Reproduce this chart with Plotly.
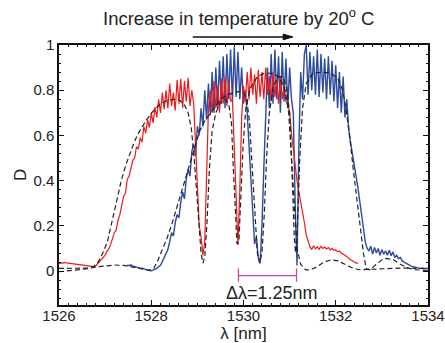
import plotly.graph_objects as go

# ---------------- data ----------------
red_x0, red_dx = 1526.0, 0.04
red_y = [0.033, 0.036, 0.035, 0.038, 0.036, 0.035, 0.036, 0.033, 0.032, 0.031,
         0.030, 0.029, 0.028, 0.027, 0.026, 0.025, 0.024, 0.022, 0.021, 0.019,
         0.024, 0.033, 0.046, 0.052, 0.064, 0.070, 0.088, 0.098, 0.118, 0.150,
         0.170, 0.182, 0.225, 0.250, 0.300, 0.330, 0.345, 0.405, 0.420, 0.450,
         0.490, 0.500, 0.550, 0.540, 0.590, 0.570, 0.640, 0.610, 0.670, 0.635,
         0.700, 0.655, 0.725, 0.680, 0.760, 0.700, 0.790, 0.715, 0.800, 0.720,
         0.830, 0.730, 0.790, 0.710, 0.845, 0.740, 0.850, 0.720, 0.840, 0.750,
         0.855, 0.730, 0.800, 0.740, 0.560, 0.380, 0.200, 0.150, 0.070, 0.130,
         0.460, 0.720, 0.800, 0.700, 0.840, 0.720, 0.820, 0.700, 0.850, 0.740,
         0.860, 0.730, 0.840, 0.750, 0.760, 0.540, 0.250, 0.115, 0.360, 0.680,
         0.820, 0.750, 0.880, 0.760, 0.900, 0.780, 0.870, 0.740, 0.890, 0.770,
         0.880, 0.760, 0.900, 0.780, 0.860, 0.750, 0.880, 0.770, 0.850, 0.740,
         0.860, 0.760, 0.820, 0.750, 0.740, 0.700, 0.610, 0.535, 0.470, 0.400,
         0.350, 0.310, 0.265, 0.215, 0.160, 0.130, 0.108, 0.095, 0.112, 0.098,
         0.108, 0.096, 0.110, 0.100, 0.106, 0.098, 0.104, 0.094, 0.100, 0.092,
         0.094, 0.086, 0.088, 0.080, 0.076, 0.070, 0.064, 0.056, 0.050, 0.046,
         0.040, 0.036, 0.034]

blue_x0, blue_dx = 1527.48, 0.04
blue_y = [0.027, 0.024, 0.028, 0.022, 0.021, 0.017, 0.016, 0.012, 0.013, 0.009,
          0.006, 0.004, 0.002, 0.001, 0.004, 0.008, 0.012, 0.020, 0.026, 0.042,
          0.060, 0.072, 0.095, 0.130, 0.170, 0.155, 0.215, 0.250, 0.235, 0.305,
          0.350, 0.320, 0.410, 0.450, 0.420, 0.530, 0.560, 0.510, 0.640, 0.600,
          0.720, 0.640, 0.800, 0.670, 0.830, 0.690, 0.880, 0.700, 0.900, 0.720,
          0.930, 0.740, 0.950, 0.720, 0.960, 0.760, 0.980, 0.750, 0.990, 0.770,
          0.970, 0.760, 0.900, 0.740, 0.800, 0.700, 0.550, 0.400, 0.220, 0.120,
          0.150, 0.060, 0.035, 0.200, 0.450, 0.700, 0.900, 0.720, 0.960, 0.740,
          0.980, 0.760, 0.950, 0.700, 0.970, 0.750, 0.940, 0.720, 0.900, 0.760,
          0.700, 0.300, 0.025, 0.550, 0.880, 0.760, 0.960, 1.000, 0.780, 0.970,
          0.800, 0.950, 0.780, 0.980, 0.770, 0.960, 0.790, 0.940, 0.760, 0.950,
          0.780, 0.930, 0.750, 0.910, 0.720, 0.880, 0.700, 0.860, 0.680, 0.760,
          0.630, 0.570, 0.520, 0.470, 0.440, 0.370, 0.310, 0.250, 0.180, 0.130,
          0.100, 0.090, 0.110, 0.075, 0.105, 0.080, 0.100, 0.070, 0.095, 0.075,
          0.090, 0.070, 0.092, 0.068, 0.085, 0.060, 0.070, 0.055, 0.060, 0.045,
          0.040, 0.035, 0.030, 0.026, 0.022, 0.019, 0.016, 0.014, 0.013, 0.012,
          0.012, 0.011, 0.010, 0.012]

fit_red_x = [1526.0, 1526.3, 1526.6, 1526.75, 1526.85, 1526.95, 1527.05, 1527.15, 1527.25, 1527.35,
             1527.45, 1527.55, 1527.65, 1527.75, 1527.9, 1528.05, 1528.2, 1528.35, 1528.5, 1528.62,
             1528.72, 1528.8, 1528.87, 1528.93, 1528.98, 1529.03, 1529.08, 1529.12, 1529.16, 1529.21,
             1529.26, 1529.32, 1529.4, 1529.5, 1529.6, 1529.68, 1529.74, 1529.78, 1529.82, 1529.86,
             1529.9, 1529.94, 1529.99, 1530.05, 1530.15, 1530.3, 1530.45, 1530.6, 1530.72, 1530.82,
             1530.9, 1530.98, 1531.04, 1531.1, 1531.16, 1531.24, 1531.35, 1531.45, 1531.6, 1531.75,
             1531.9, 1532.05, 1532.2, 1532.35, 1532.5, 1532.7, 1533.0, 1533.4, 1534.0]
fit_red_y = [0.012, 0.012, 0.013, 0.02, 0.04, 0.08, 0.13, 0.22, 0.31, 0.40,
             0.47, 0.53, 0.58, 0.62, 0.67, 0.71, 0.74, 0.755, 0.76, 0.755,
             0.735, 0.70, 0.63, 0.50, 0.35, 0.20, 0.08, 0.035, 0.06, 0.22,
             0.45, 0.62, 0.70, 0.745, 0.76, 0.74, 0.65, 0.45, 0.25, 0.12,
             0.13, 0.30, 0.55, 0.72, 0.81, 0.86, 0.875, 0.875, 0.865, 0.84,
             0.80, 0.70, 0.50, 0.25, 0.10, 0.03, 0.005, 0.005, 0.02, 0.04,
             0.05, 0.045, 0.03, 0.015, 0.006, 0.008, 0.012, 0.013, 0.012]

fit_blue_x = [1526.0, 1526.3, 1526.6, 1526.8, 1527.0, 1527.2, 1527.4, 1527.6, 1527.8, 1527.95,
              1528.05, 1528.15, 1528.25, 1528.35, 1528.45, 1528.55, 1528.65, 1528.75, 1528.85, 1528.95,
              1529.05, 1529.15, 1529.25, 1529.35, 1529.5, 1529.65, 1529.8, 1529.9, 1530.0, 1530.07,
              1530.13, 1530.19, 1530.25, 1530.3, 1530.35, 1530.4, 1530.45, 1530.5, 1530.56, 1530.65,
              1530.75, 1530.85, 1530.93, 1531.0, 1531.05, 1531.1, 1531.13, 1531.17, 1531.22, 1531.28,
              1531.36, 1531.5, 1531.7, 1531.9, 1532.05, 1532.15, 1532.22, 1532.3, 1532.38, 1532.46,
              1532.54, 1532.6, 1532.66, 1532.75, 1532.85, 1533.0, 1533.1, 1533.25, 1533.4, 1533.55,
              1533.7, 1534.0]
fit_blue_y = [-0.003, 0.003, 0.01, 0.018, 0.024, 0.027, 0.025, 0.018, 0.01, 0.004,
              0.01, 0.05, 0.10, 0.15, 0.21, 0.28, 0.35, 0.42, 0.49, 0.56,
              0.62, 0.66, 0.69, 0.72, 0.76, 0.78, 0.79, 0.795, 0.79, 0.76,
              0.66, 0.45, 0.22, 0.08, 0.035, 0.08, 0.25, 0.50, 0.70, 0.82,
              0.86, 0.86, 0.82, 0.70, 0.45, 0.15, 0.08, 0.20, 0.50, 0.72,
              0.83, 0.875, 0.88, 0.875, 0.85, 0.80, 0.72, 0.60, 0.45, 0.32,
              0.18, 0.08, 0.01, 0.005, 0.025, 0.05, 0.056, 0.05, 0.03, 0.015,
              0.006, 0.003]

x_tick_vals = [1526, 1528, 1530, 1532, 1534]
y_tick_vals = [0, 0.2, 0.4, 0.6, 0.8, 1]
y_tick_text = ["0", "0.2", "0.4", "0.6", "0.8", "1"]

shift_start, shift_end = 1529.89, 1531.15
shift_label = "\u0394\u03bb=1.25nm"
top_label = "Increase in temperature by 20<sup>o</sup> C"
arrow_from, arrow_to = 1528.9, 1531.07

# ---------------- figure ----------------
FONT = "Liberation Sans, Arial, sans-serif"
fig = go.Figure()
fig.add_trace(go.Scatter(x0=blue_x0, dx=blue_dx, y=blue_y, mode="lines",
                         line=dict(color="#2c4a9e", width=1.4), hoverinfo="skip"))
fig.add_trace(go.Scatter(x0=red_x0, dx=red_dx, y=red_y, mode="lines",
                         line=dict(color="#f01818", width=1.2), hoverinfo="skip"))
for fx, fy in ((fit_red_x, fit_red_y), (fit_blue_x, fit_blue_y)):
    fig.add_trace(go.Scatter(x=fx, y=fy, mode="lines",
                             line=dict(color="#222", width=1.2, dash="5px,3px"),
                             hoverinfo="skip"))

# magenta bracket
mag = "#c8479f"
fig.add_shape(type="line", x0=shift_start, x1=shift_end, y0=-0.02, y1=-0.02,
              line=dict(color=mag, width=1.3))
for xe in (shift_start, shift_end):
    fig.add_shape(type="line", x0=xe, x1=xe, y0=0.012, y1=-0.047,
                  line=dict(color=mag, width=1.3))
fig.add_annotation(x=1530.61, y=-0.098, text=shift_label, showarrow=False,
                   xanchor="center", yanchor="middle",
                   font=dict(family=FONT, size=18, color="#222"))

# top arrow (line + filled head) and title
ay = 1.031
fig.add_shape(type="line", xref="x", yref="paper", x0=arrow_from, x1=arrow_to - 0.15,
              y0=ay, y1=ay, line=dict(color="#111", width=1.6))
fig.add_shape(type="path", xref="x", yref="paper",
              path=f"M {arrow_to-0.21},{ay+0.011} L {arrow_to},{ay} L {arrow_to-0.21},{ay-0.011} Z",
              fillcolor="#111", line=dict(color="#111", width=1))
fig.add_annotation(x=1529.9, y=1.108, xref="x", yref="paper", text=top_label,
                   showarrow=False, xanchor="center", yanchor="middle",
                   font=dict(family=FONT, size=18.5, color="#222"))
# y axis label
fig.add_annotation(x=-0.106, y=0.5, xref="paper", yref="paper", text="D",
                   showarrow=False, textangle=-90, xanchor="center", yanchor="middle",
                   font=dict(family=FONT, size=17, color="#222"))

axis_common = dict(showline=True, linecolor="#111", linewidth=1.5, mirror="ticks",
                   ticks="inside", ticklen=5, tickwidth=1, tickcolor="#111",
                   showgrid=False, zeroline=False, automargin=False,
                   ticklabeloverflow="allow",
                   tickfont=dict(family=FONT, size=15, color="#222"))
fig.update_xaxes(range=[1526, 1534], tickvals=x_tick_vals, ticklabelstandoff=-4,
                 minor=dict(ticks="inside", dtick=0.2, ticklen=2.5, tickcolor="#111", tick0=1526),
                 title=dict(text="\u03bb [nm]", font=dict(family=FONT, size=17, color="#222"), standoff=0),
                 **axis_common)
fig.update_yaxes(range=[-0.15, 1], tickvals=y_tick_vals, ticktext=y_tick_text,
                 minor=dict(ticks="inside", dtick=0.04, ticklen=2.5, tickcolor="#111", tick0=0),
                 **axis_common)
fig.update_layout(width=445, height=343, margin=dict(l=59, r=17, t=45, b=38),
                  paper_bgcolor="white", plot_bgcolor="white", showlegend=False)
fig.write_html("out.html", config={"displayModeBar": False},
               post_script="document.body.style.margin='0';document.body.style.overflow='hidden';")
